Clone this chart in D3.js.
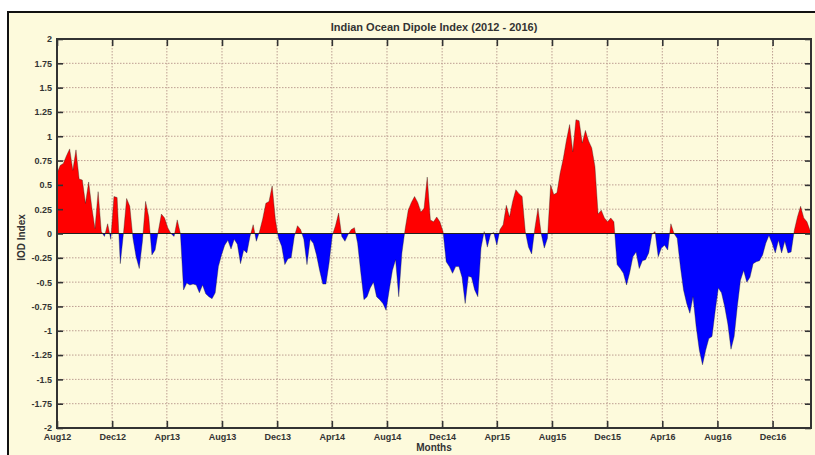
<!DOCTYPE html>
<html>
<head>
<meta charset="utf-8">
<script src="https://cdn.jsdelivr.net/npm/d3@7"></script>
<style>
  body { margin: 0; background: #fff; }
  svg text { font-family: "Liberation Sans", Arial, sans-serif; font-weight: bold; }
</style>
</head>
<body>
<svg id="chart" width="815" height="455"></svg>
<script>
// weekly IOD values, first week starting 2012-08-01
var startWeek = "2012-08-01";
var iod = [
  0.62, 0.70, 0.72, 0.80, 0.87, 0.65, 0.86, 0.56, 0.55, 0.31,
  0.53, 0.27, 0.05, 0.43, 0.02, -0.03, 0.10, -0.06, 0.38, 0.37,
  -0.31, 0.00, 0.36, 0.28, -0.05, -0.24, -0.36, -0.08, 0.33, 0.17,
  -0.22, -0.17, 0.02, 0.20, 0.16, 0.06, 0.00, -0.03, 0.14, 0.00,
  -0.58, -0.51, -0.53, -0.52, -0.53, -0.61, -0.53, -0.62, -0.65, -0.67,
  -0.61, -0.34, -0.22, -0.12, -0.07, -0.16, -0.06, -0.11, -0.31, -0.17,
  -0.20, -0.03, 0.09, -0.08, 0.02, 0.15, 0.31, 0.33, 0.49, 0.15,
  -0.05, -0.13, -0.32, -0.26, -0.25, -0.03, 0.08, 0.04, -0.06, -0.32,
  -0.06, -0.10, -0.22, -0.38, -0.52, -0.52, -0.30, -0.02, 0.08, 0.21,
  -0.03, -0.08, -0.01, 0.04, 0.06, -0.10, -0.40, -0.68, -0.65, -0.56,
  -0.50, -0.65, -0.68, -0.72, -0.79, -0.58, -0.38, -0.27, -0.65, -0.20,
  0.04, 0.24, 0.32, 0.38, 0.32, 0.22, 0.26, 0.58, 0.14, 0.12,
  0.17, 0.12, 0.02, -0.29, -0.34, -0.41, -0.34, -0.34, -0.45, -0.72,
  -0.44, -0.45, -0.58, -0.65, -0.15, 0.02, -0.14, -0.01, 0.01, -0.12,
  0.04, 0.09, 0.29, 0.17, 0.33, 0.45, 0.41, 0.38, 0.02, -0.14,
  -0.21, 0.05, 0.26, 0.00, -0.15, -0.05, 0.50, 0.40, 0.42, 0.62,
  0.77, 0.96, 1.12, 0.84, 1.17, 1.16, 0.93, 1.06, 0.95, 0.88,
  0.69, 0.20, 0.24, 0.16, 0.12, 0.16, 0.12, -0.32, -0.36, -0.41,
  -0.53, -0.40, -0.24, -0.19, -0.36, -0.28, -0.27, -0.20, -0.01, 0.02,
  -0.24, -0.15, -0.12, -0.17, 0.10, 0.00, -0.05, -0.34, -0.58, -0.72,
  -0.82, -0.65, -0.96, -1.20, -1.35, -1.20, -1.08, -1.06, -0.80, -0.56,
  -0.61, -0.75, -0.93, -1.19, -1.06, -0.75, -0.48, -0.38, -0.50, -0.45,
  -0.31, -0.29, -0.28, -0.22, -0.10, -0.02, -0.10, -0.20, -0.07, -0.20,
  -0.08, -0.20, -0.19, 0.03, 0.17, 0.28, 0.16, 0.12, 0.03, -0.10
];

var xTickDates = ["2012-08-01", "2012-12-01", "2013-04-01", "2013-08-01", "2013-12-01",
  "2014-04-01", "2014-08-01", "2014-12-01", "2015-04-01", "2015-08-01", "2015-12-01",
  "2016-04-01", "2016-08-01", "2016-12-01"];
var xTickLabels = ["Aug12", "Dec12", "Apr13", "Aug13", "Dec13", "Apr14", "Aug14",
  "Dec14", "Apr15", "Aug15", "Dec15", "Apr16", "Aug16", "Dec16"];
var yTickValues = [2, 1.75, 1.5, 1.25, 1, 0.75, 0.5, 0.25, 0, -0.25, -0.5, -0.75,
  -1, -1.25, -1.5, -1.75, -2];

var svg = d3.select("#chart");
var pL = 57, pR = 811, pT = 39, pB = 428;
var bg = "#fdfadc", ink = "#333";

var x = d3.scaleUtc()
  .domain([new Date("2012-08-01"), new Date("2017-02-24")])
  .range([pL, pR]);
var y = d3.scaleLinear().domain([-2, 2]).range([pB, pT]);

var data = iod.map(function (v, i) {
  return { date: d3.utcDay.offset(new Date(startWeek), 7 * i), v: v };
});

// figure frame
svg.append("rect")
  .attr("x", 8).attr("y", 12).attr("width", 830).attr("height", 470)
  .attr("fill", bg).attr("stroke", "#111").attr("stroke-width", 2);

// grid
var grid = svg.append("g")
  .attr("stroke", "#bd9e92").attr("stroke-width", 1).attr("stroke-dasharray", "1.5,1.5");
grid.selectAll("line.h")
  .data(yTickValues.filter(function (d) { return d > -2 && d < 2; }))
  .enter().append("line")
  .attr("x1", pL).attr("x2", pR)
  .attr("y1", function (d) { return y(d); }).attr("y2", function (d) { return y(d); });
grid.selectAll("line.v")
  .data(xTickDates.slice(1))
  .enter().append("line")
  .attr("y1", pT).attr("y2", pB)
  .attr("x1", function (d) { return x(new Date(d)); })
  .attr("x2", function (d) { return x(new Date(d)); });

// clip regions above and below zero
var defs = svg.append("defs");
defs.append("clipPath").attr("id", "pos").append("rect")
  .attr("x", pL).attr("y", pT).attr("width", pR - pL).attr("height", y(0) - pT);
defs.append("clipPath").attr("id", "neg").append("rect")
  .attr("x", pL).attr("y", y(0)).attr("width", pR - pL).attr("height", pB - y(0));
defs.append("clipPath").attr("id", "plot").append("rect")
  .attr("x", pL).attr("y", pT).attr("width", pR - pL).attr("height", pB - pT);

var area = d3.area()
  .x(function (d) { return x(d.date); })
  .y0(y(0))
  .y1(function (d) { return y(d.v); });

svg.append("path").datum(data)
  .attr("clip-path", "url(#pos)")
  .attr("fill", "#ff0000")
  .attr("d", area);
svg.append("path").datum(data)
  .attr("clip-path", "url(#neg)")
  .attr("fill", "#0000ff")
  .attr("d", area);

// thin outline of the series
svg.append("path").datum(data)
  .attr("clip-path", "url(#plot)")
  .attr("fill", "none").attr("stroke", "#222").attr("stroke-width", 0.6).attr("stroke-opacity", 0.6)
  .attr("d", d3.line().x(function (d) { return x(d.date); }).y(function (d) { return y(d.v); }));

// zero line
svg.append("line")
  .attr("x1", pL).attr("x2", pR).attr("y1", y(0)).attr("y2", y(0))
  .attr("stroke", "#222").attr("stroke-width", 1.2);

// axes
function style(g) {
  g.select(".domain").remove();
  g.selectAll(".tick line").attr("stroke", ink).attr("stroke-width", 1.6);
  g.selectAll(".tick text").attr("fill", ink).style("font-size", "9px");
}

svg.append("g")
  .attr("transform", "translate(" + pL + ",0)")
  .call(d3.axisLeft(y).tickValues(yTickValues).tickSize(-6).tickPadding(5)
    .tickFormat(function (d) { return String(d); }))
  .call(style);

svg.append("g")
  .attr("transform", "translate(" + pR + ",0)")
  .call(d3.axisRight(y).tickValues(yTickValues).tickSize(-6).tickFormat(""))
  .call(style);

svg.append("g")
  .attr("transform", "translate(0," + pB + ")")
  .call(d3.axisBottom(x).tickValues(xTickDates.map(function (d) { return new Date(d); }))
    .tickSize(-7).tickPadding(6)
    .tickFormat(function (d, i) { return xTickLabels[i]; }))
  .call(style);

svg.append("g")
  .attr("transform", "translate(0," + pT + ")")
  .call(d3.axisTop(x).tickValues(xTickDates.map(function (d) { return new Date(d); }))
    .tickSize(-7).tickFormat(""))
  .call(style);

// plot box
svg.append("rect")
  .attr("x", pL).attr("y", pT).attr("width", pR - pL).attr("height", pB - pT)
  .attr("fill", "none").attr("stroke", ink).attr("stroke-width", 2);

// titles
svg.append("text")
  .attr("x", (pL + pR) / 2).attr("y", 31)
  .attr("text-anchor", "middle").attr("fill", ink).style("font-size", "11px")
  .text("Indian Ocean Dipole Index (2012 - 2016)");

svg.append("text")
  .attr("x", (pL + pR) / 2).attr("y", 451)
  .attr("text-anchor", "middle").attr("fill", ink).style("font-size", "10px")
  .text("Months");

svg.append("text")
  .attr("transform", "translate(25," + ((pT + pB) / 2 + 4) + ") rotate(-90)")
  .attr("text-anchor", "middle").attr("fill", ink).style("font-size", "10px")
  .text("IOD Index");
</script>
</body>
</html>
